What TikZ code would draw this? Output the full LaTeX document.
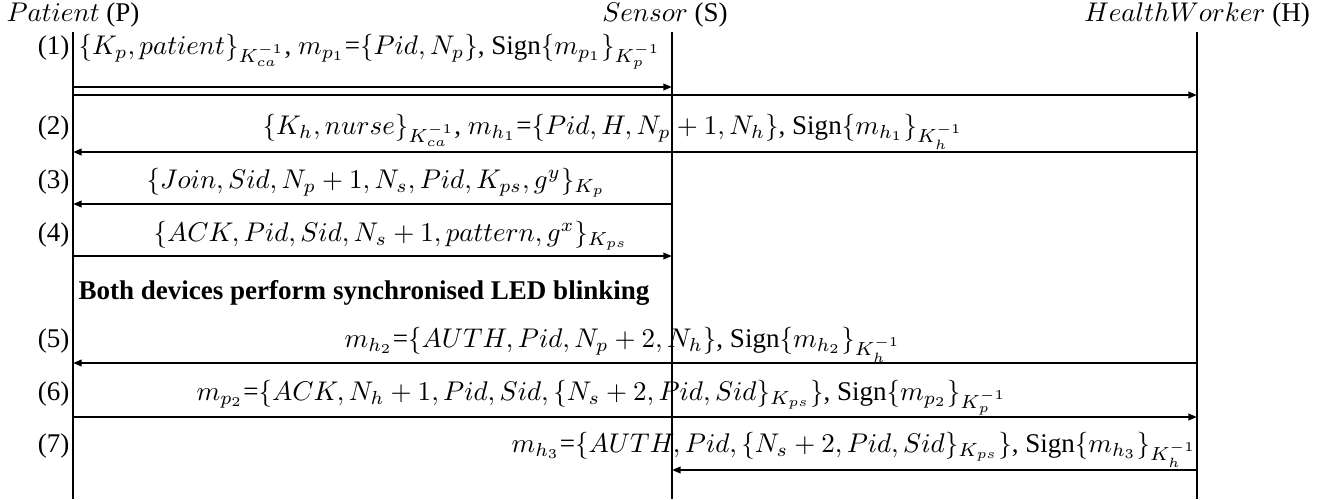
\documentclass[tikz,border=0pt]{standalone}
\usepackage[no-math]{fontspec}
\setmainfont{Liberation Serif}
\usetikzlibrary{arrows.meta}
\begin{document}
\begin{tikzpicture}[x=0.37pt,y=-0.37pt,
  life/.style={line width=1.05pt},
  msg/.style={line width=1.05pt,-{Triangle[length=3.2pt,width=2.4pt]}},
  lbl/.style={inner sep=0pt,anchor=base},
  lblw/.style={inner sep=0pt,anchor=base west},
  lble/.style={inner sep=0pt,anchor=base east}]
\useasboundingbox (0,0) rectangle (1333,499);
% headers
\node[lbl] (hp) at (73,21) {$Patient$ (P)};
\node[lbl] (hs) at (665,21) {$Sensor$ (S)};
\node[lbl] (hh) at (1197,21) {$HealthWorker$ (H)};
% lifelines
\coordinate (Pt) at (73,32);  \coordinate (Pb) at (73,499);
\coordinate (St) at (672,32); \coordinate (Sb) at (672,499);
\coordinate (Ht) at (1197,32);\coordinate (Hb) at (1197,499);
\draw[life] (Pt) -- (Pb);
\draw[life] (St) -- (Sb);
\draw[life] (Ht) -- (Hb);
% step numbers
\node[lble] (n1) at (70,54) {(1)};
\node[lble] (n2) at (70,134) {(2)};
\node[lble] (n3) at (70,188) {(3)};
\node[lble] (n4) at (70,241) {(4)};
\node[lble] (n5) at (70,347) {(5)};
\node[lble] (n6) at (70,400) {(6)};
\node[lble] (n7) at (70,452) {(7)};
% message texts
\node[lblw] (t1) at (78,54) {$\{K_p, patient\}_{K_{ca}^{-1}}$, $m_{p_1}$=$\{Pid, N_p\}$, Sign$\{m_{p_1}\}_{K_p^{-1}}$};
\node[lblw] (t2) at (262,134) {$\{K_h, nurse\}_{K_{ca}^{-1}}$, $m_{h_1}$=$\{Pid, H, N_p+1, N_h\}$, Sign$\{m_{h_1}\}_{K_h^{-1}}$};
\node[lblw] (t3) at (146,188) {$\{Join, Sid, N_p+1, N_s, Pid, K_{ps}, g^y\}_{K_p}$};
\node[lblw] (t4) at (153,241) {$\{ACK, Pid, Sid, N_s+1, pattern, g^x\}_{K_{ps}}$};
\node[lblw] (tb) at (78,299) {\textbf{Both devices perform synchronised LED blinking}};
\node[lblw] (t5) at (344,347) {$m_{h_2}$=$\{AUTH, Pid, N_p+2, N_h\}$, Sign$\{m_{h_2}\}_{K_h^{-1}}$};
\node[lblw] (t6) at (196,400) {$m_{p_2}$=$\{ACK, N_h+1, Pid, Sid, \{N_s+2, Pid, Sid\}_{K_{ps}}\}$, Sign$\{m_{p_2}\}_{K_p^{-1}}$};
\node[lblw] (t7) at (511,452) {$m_{h_3}$=$\{AUTH, Pid, \{N_s+2, Pid, Sid\}_{K_{ps}}\}$, Sign$\{m_{h_3}\}_{K_h^{-1}}$};
% arrow end points on lifelines
\coordinate (p1a) at (73,87);  \coordinate (s1a) at (672,87);
\coordinate (p1b) at (73,95);  \coordinate (h1b) at (1197,95);
\coordinate (p2) at (73,152);  \coordinate (h2) at (1197,152);
\coordinate (p3) at (73,204);  \coordinate (s3) at (672,204);
\coordinate (p4) at (73,256);  \coordinate (s4) at (672,256);
\coordinate (p5) at (73,363);  \coordinate (h5) at (1197,363);
\coordinate (p6) at (73,417);  \coordinate (h6) at (1197,417);
\coordinate (s7) at (672,470); \coordinate (h7) at (1197,470);
\draw[msg] (p1a) -- (s1a);
\draw[msg] (p1b) -- (h1b);
\draw[msg] (h2) -- (p2);
\draw[msg] (s3) -- (p3);
\draw[msg] (p4) -- (s4);
\draw[msg] (h5) -- (p5);
\draw[msg] (p6) -- (h6);
\draw[msg] (h7) -- (s7);
\end{tikzpicture}
\end{document}
